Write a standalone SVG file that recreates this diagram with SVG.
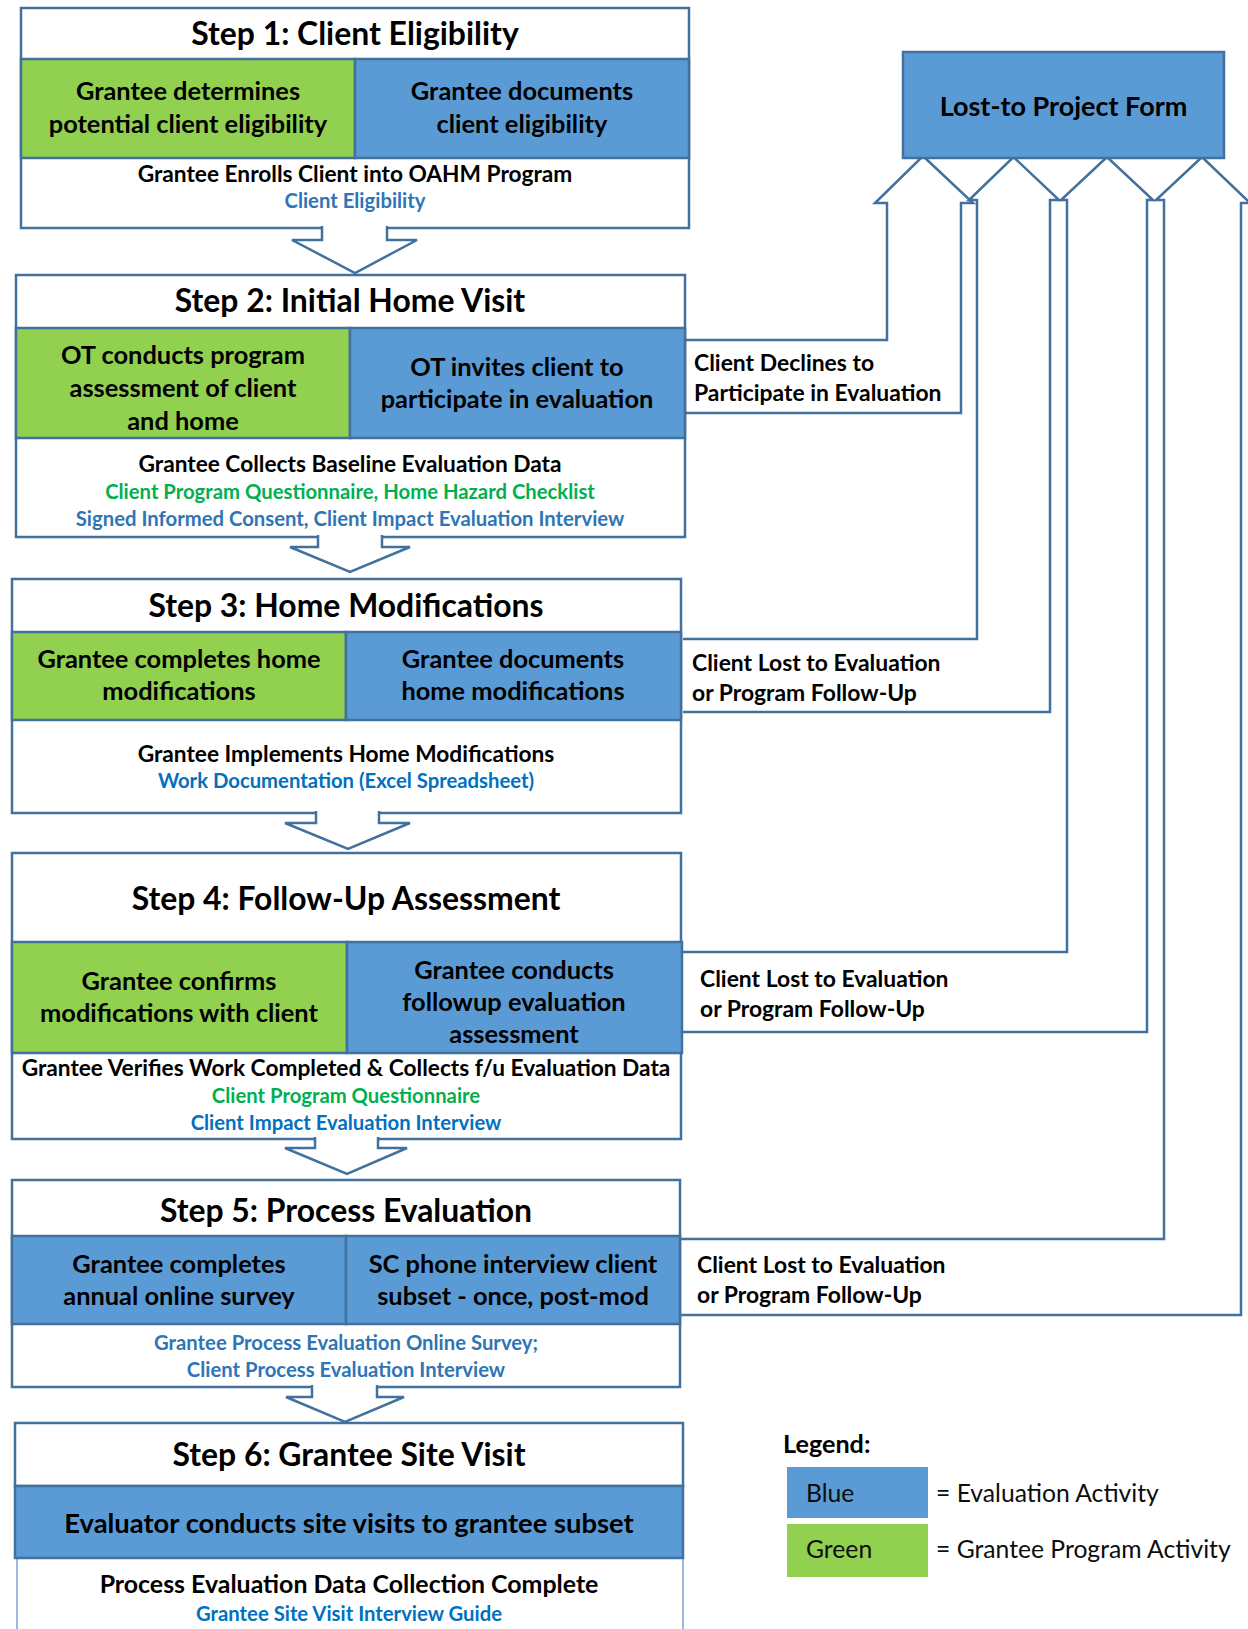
<svg xmlns="http://www.w3.org/2000/svg" width="1248" height="1629" viewBox="0 0 1248 1629">
<style>
text{font-family:Lato,"Liberation Sans",sans-serif;font-weight:bold;fill:#000;text-anchor:middle}
.box{fill:#fff;stroke:#41719C;stroke-width:2.5}
.boxl{fill:#fff;stroke:#7FA3CF;stroke-width:1.5}
.g{fill:#92D050;stroke:#41719C;stroke-width:2.5}
.b{fill:#5B9BD5;stroke:#41719C;stroke-width:2.5}
.conn{fill:#fff;stroke:#41719C;stroke-width:2.5;stroke-linejoin:miter}
.loss{fill:none;stroke:#41719C;stroke-width:2.5;stroke-linejoin:miter}
.t{font-size:31.9px}
.c{font-size:25.4px}
.r{font-size:22.7px}
.f{font-size:20.3px}
.gt{fill:#00B050}
.bt{fill:#2E75B6}
.bt2{fill:#0070C0}
.lab{font-size:22.9px;text-anchor:start}
.leg{font-size:24.7px;font-weight:normal;text-anchor:start;fill:#0D0D0D}
</style>

<g id="step1">
<rect class="box" x="21" y="8" width="668" height="220"/>
<text class="t" x="355" y="45">Step 1: Client Eligibility</text>
<rect class="g" x="21" y="59" width="334" height="99"/>
<rect class="b" x="355" y="59" width="334" height="99"/>
<text class="c" x="188" y="100">Grantee determines</text>
<text class="c" x="188" y="133">potential client eligibility</text>
<text class="c" x="522" y="100">Grantee documents</text>
<text class="c" x="522" y="133">client eligibility</text>
<text class="r" x="355" y="182">Grantee Enrolls Client into OAHM Program</text>
<text class="f bt" x="355" y="208">Client Eligibility</text>
</g>

<g id="step2">
<rect class="box" x="16" y="275" width="669" height="262"/>
<text class="t" x="350" y="312">Step 2: Initial Home Visit</text>
<rect class="g" x="16" y="328" width="334" height="110"/>
<rect class="b" x="350" y="328" width="335" height="110"/>
<text class="c" x="183" y="364">OT conducts program</text>
<text class="c" x="183" y="397">assessment of client</text>
<text class="c" x="183" y="430">and home</text>
<text class="c" x="517" y="376">OT invites client to</text>
<text class="c" x="517" y="408">participate in evaluation</text>
<text class="r" x="350" y="472">Grantee Collects Baseline Evaluation Data</text>
<text class="f gt" x="350" y="499">Client Program Questionnaire, Home Hazard Checklist</text>
<text class="f bt" x="350" y="526">Signed Informed Consent, Client Impact Evaluation Interview</text>
</g>

<g id="step3">
<rect class="box" x="12" y="579" width="669" height="234"/>
<text class="t" x="346" y="617">Step 3: Home Modifications</text>
<rect class="g" x="12" y="632" width="334" height="88"/>
<rect class="b" x="346" y="632" width="335" height="88"/>
<text class="c" x="179" y="668">Grantee completes home</text>
<text class="c" x="179" y="700">modifications</text>
<text class="c" x="513" y="668">Grantee documents</text>
<text class="c" x="513" y="700">home modifications</text>
<text class="r" x="346" y="762">Grantee Implements Home Modifications</text>
<text class="f bt2" x="346" y="788">Work Documentation (Excel Spreadsheet)</text>
</g>

<g id="step4">
<rect class="box" x="12" y="853" width="669" height="286"/>
<text class="t" x="346" y="910">Step 4: Follow-Up Assessment</text>
<rect class="g" x="12" y="942" width="335" height="111"/>
<rect class="b" x="347" y="942" width="335" height="111"/>
<text class="c" x="179" y="990">Grantee confirms</text>
<text class="c" x="179" y="1022">modifications with client</text>
<text class="c" x="514" y="979">Grantee conducts</text>
<text class="c" x="514" y="1011">followup evaluation</text>
<text class="c" x="514" y="1043">assessment</text>
<text class="r" x="346" y="1076">Grantee Verifies Work Completed &amp; Collects f/u Evaluation Data</text>
<text class="f gt" x="346" y="1103">Client Program Questionnaire</text>
<text class="f bt2" x="346" y="1130">Client Impact Evaluation Interview</text>
</g>

<g id="step5">
<rect class="box" x="12" y="1180" width="668" height="207"/>
<text class="t" x="346" y="1222">Step 5: Process Evaluation</text>
<rect class="b" x="12" y="1236" width="334" height="88"/>
<rect class="b" x="346" y="1236" width="334" height="88"/>
<text class="c" x="179" y="1273">Grantee completes</text>
<text class="c" x="179" y="1305">annual online survey</text>
<text class="c" x="513" y="1273">SC phone interview client</text>
<text class="c" x="513" y="1305">subset - once, post-mod</text>
<text class="f bt" x="346" y="1350">Grantee Process Evaluation Online Survey;</text>
<text class="f bt" x="346" y="1377">Client Process Evaluation Interview</text>
</g>

<g id="step6">
<rect class="boxl" x="17" y="1558" width="666" height="90"/>
<rect class="box" x="15" y="1423" width="668" height="63"/>
<text class="t" x="349" y="1466">Step 6: Grantee Site Visit</text>
<rect class="b" x="15" y="1486" width="668" height="72"/>
<text class="c" x="349" y="1533" style="font-size:27.4px">Evaluator conducts site visits to grantee subset</text>
<text class="r" x="349" y="1593" style="font-size:24.9px">Process Evaluation Data Collection Complete</text>
<text class="f bt2" x="349" y="1621">Grantee Site Visit Interview Guide</text>
</g>

<g id="connectors">
<path class="conn" d="M322,226 V240 H292 L355,273 L417,240 H387 V226"/>
<path class="conn" d="M318,535 V547 H290 L350,572 L410,547 H382 V535"/>
<path class="conn" d="M316,811 V823 H285 L348,849 L410,823 H379 V811"/>
<path class="conn" d="M315,1137 V1148 H285 L347,1174 L407,1148 H378 V1137"/>
<path class="conn" d="M312,1385 V1397 H286 L345,1422 L404,1397 H377 V1385"/>
<path class="loss" d="M685,340 H887 V203 H875 L923,156 L973,203 H961 V413 H685"/>
<path class="loss" d="M683,639 H977 V200 H969 L1013.5,157 L1059,200 H1050 V712 H683"/>
<path class="loss" d="M682,952 H1067 V200 H1061 L1107,157 L1153,200 H1147 V1032 H682"/>
<path class="loss" d="M680,1239 H1164 V200 H1156 L1202,157 L1250,203 H1241 V1315 H680"/>
<text class="lab" x="694" y="371">Client Declines to</text>
<text class="lab" x="694" y="401">Participate in Evaluation</text>
<text class="lab" x="692" y="671">Client Lost to Evaluation</text>
<text class="lab" x="692" y="701">or Program Follow-Up</text>
<text class="lab" x="700" y="987">Client Lost to Evaluation</text>
<text class="lab" x="700" y="1017">or Program Follow-Up</text>
<text class="lab" x="697" y="1273">Client Lost to Evaluation</text>
<text class="lab" x="697" y="1303">or Program Follow-Up</text>
</g>

<g id="lostform">
<rect class="b" x="903" y="52" width="321" height="106"/>
<text x="1063.5" y="116" style="font-size:27px">Lost-to Project Form</text>
</g>

<g id="legend">
<text x="783" y="1453" style="font-size:25.2px;text-anchor:start">Legend:</text>
<rect x="787" y="1467" width="141" height="51" fill="#5B9BD5"/>
<rect x="787" y="1524" width="141" height="53" fill="#92D050"/>
<text class="leg" x="806" y="1502">Blue</text>
<text class="leg" x="806" y="1558">Green</text>
<text class="leg" x="936" y="1502">= Evaluation Activity</text>
<text class="leg" x="936" y="1558">= Grantee Program Activity</text>
</g>
</svg>
